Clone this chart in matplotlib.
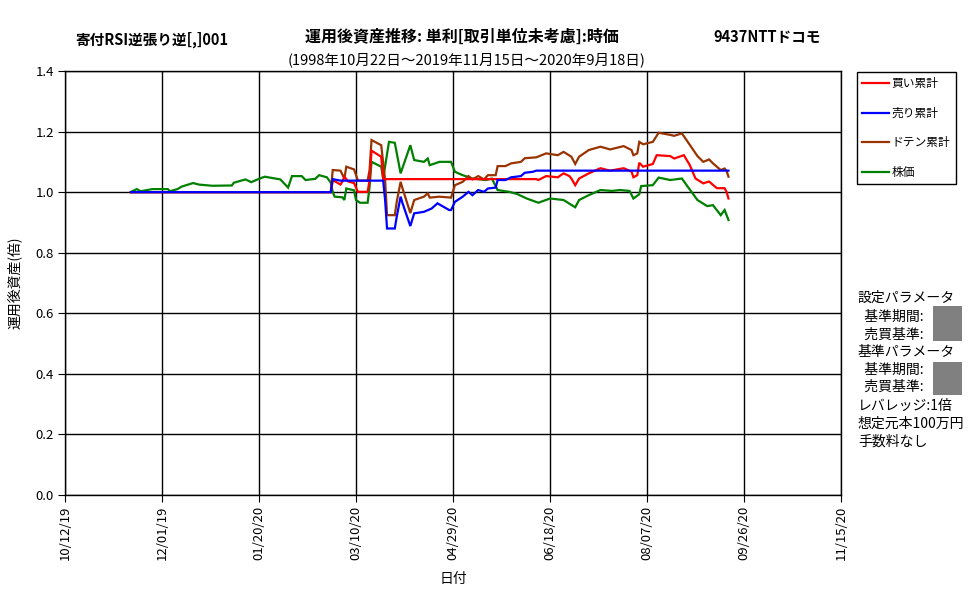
import matplotlib
matplotlib.use("Agg")
import matplotlib.pyplot as plt
import matplotlib.dates as mdates
from matplotlib.patches import Rectangle
import pandas as pd

plt.rcParams['font.family'] = ['Noto Sans CJK JP', 'DejaVu Sans']

# ---------------- data ----------------
green_dates = ["2019-11-15", "2019-11-18", "2019-11-20", "2019-11-26", "2019-12-04", "2019-12-05",
               "2019-12-09", "2019-12-11", "2019-12-17", "2019-12-20", "2019-12-27", "2020-01-06",
               "2020-01-07", "2020-01-13", "2020-01-16", "2020-01-20", "2020-01-23", "2020-01-31",
               "2020-02-04", "2020-02-06", "2020-02-11", "2020-02-13", "2020-02-18", "2020-02-20",
               "2020-02-24", "2020-02-26", "2020-02-27", "2020-02-28", "2020-03-03", "2020-03-04",
               "2020-03-05", "2020-03-09", "2020-03-10", "2020-03-12", "2020-03-16", "2020-03-17",
               "2020-03-18", "2020-03-23", "2020-03-24", "2020-03-27", "2020-03-30", "2020-04-02",
               "2020-04-07", "2020-04-09", "2020-04-14", "2020-04-16", "2020-04-17", "2020-04-22",
               "2020-04-28", "2020-04-30", "2020-05-04", "2020-05-09", "2020-05-16", "2020-05-19",
               "2020-05-22", "2020-05-28", "2020-06-01", "2020-06-06", "2020-06-12", "2020-06-18",
               "2020-06-25", "2020-07-01", "2020-07-03", "2020-07-08", "2020-07-14", "2020-07-20",
               "2020-07-24", "2020-07-29", "2020-07-31", "2020-08-03", "2020-08-04", "2020-08-10",
               "2020-08-13", "2020-08-19", "2020-08-25", "2020-08-28", "2020-09-02", "2020-09-07",
               "2020-09-10", "2020-09-14", "2020-09-16", "2020-09-18"]
green_vals = [1.001, 1.010, 1.003, 1.010, 1.010, 1.003,
              1.010, 1.018, 1.030, 1.025, 1.021, 1.022,
              1.031, 1.042, 1.033, 1.044, 1.051, 1.042,
              1.015, 1.053, 1.053, 1.040, 1.044, 1.056,
              1.049, 1.031, 1.001, 0.985, 0.983, 0.974,
              1.012, 1.006, 0.974, 0.965, 0.965, 1.018,
              1.100, 1.084, 1.045, 1.166, 1.163, 1.062,
              1.155, 1.106, 1.100, 1.111, 1.089, 1.100,
              1.100, 1.067, 1.056, 1.045, 1.040, 1.045,
              1.007, 1.001, 0.994, 0.979, 0.965, 0.979,
              0.974, 0.950, 0.974, 0.990, 1.007, 1.004,
              1.007, 1.004, 0.979, 0.993, 1.020, 1.023,
              1.048, 1.040, 1.045, 1.018, 0.974, 0.954,
              0.957, 0.924, 0.941, 0.908]

red_dates = ["2019-11-15", "2020-02-26", "2020-02-27", "2020-03-02", "2020-03-03", "2020-03-04",
             "2020-03-06", "2020-03-09", "2020-03-10", "2020-03-11", "2020-03-16", "2020-03-17",
             "2020-03-18", "2020-03-23", "2020-03-24", "2020-06-11", "2020-06-12", "2020-06-16",
             "2020-06-22", "2020-06-25", "2020-06-28", "2020-06-29", "2020-07-01", "2020-07-03",
             "2020-07-08", "2020-07-14", "2020-07-19", "2020-07-26", "2020-07-30", "2020-07-31",
             "2020-08-02", "2020-08-03", "2020-08-05", "2020-08-10", "2020-08-12", "2020-08-19",
             "2020-08-21", "2020-08-26", "2020-08-29", "2020-09-01", "2020-09-05", "2020-09-08",
             "2020-09-12", "2020-09-16", "2020-09-17", "2020-09-18"]
red_vals = [1.000, 1.000, 1.040, 1.025, 1.035, 1.051,
            1.035, 1.030, 1.015, 1.001, 1.001, 1.040,
            1.137, 1.117, 1.043, 1.043, 1.040, 1.053,
            1.049, 1.062, 1.053, 1.045, 1.023, 1.045,
            1.062, 1.079, 1.071, 1.079, 1.068, 1.049,
            1.056, 1.097, 1.084, 1.093, 1.122, 1.119,
            1.111, 1.122, 1.090, 1.045, 1.029, 1.035,
            1.013, 1.013, 1.001, 0.979]

blue_dates = ["2019-11-15", "2020-02-26", "2020-02-27", "2020-03-02", "2020-03-24", "2020-03-25",
              "2020-03-26", "2020-03-30", "2020-03-31", "2020-04-02", "2020-04-03", "2020-04-07",
              "2020-04-09", "2020-04-14", "2020-04-18", "2020-04-21", "2020-04-27", "2020-04-28",
              "2020-04-30", "2020-05-04", "2020-05-07", "2020-05-09", "2020-05-12", "2020-05-15",
              "2020-05-17", "2020-05-21", "2020-05-22", "2020-05-26", "2020-05-29", "2020-06-03",
              "2020-06-05", "2020-06-09", "2020-06-11", "2020-09-18"]
blue_vals = [1.000, 1.000, 1.043, 1.038, 1.038, 0.974,
             0.880, 0.880, 0.919, 0.985, 0.963, 0.888,
             0.930, 0.935, 0.946, 0.963, 0.941, 0.941,
             0.968, 0.985, 1.001, 0.990, 1.007, 1.001,
             1.012, 1.015, 1.040, 1.040, 1.049, 1.053,
             1.064, 1.067, 1.071, 1.071]

brown_dates = ["2019-11-15", "2020-02-26", "2020-02-27", "2020-03-02", "2020-03-04", "2020-03-05",
               "2020-03-09", "2020-03-11", "2020-03-16", "2020-03-17", "2020-03-18", "2020-03-23",
               "2020-03-25", "2020-03-26", "2020-03-30", "2020-03-31", "2020-04-02", "2020-04-03",
               "2020-04-07", "2020-04-09", "2020-04-14", "2020-04-16", "2020-04-17", "2020-04-22",
               "2020-04-28", "2020-04-30", "2020-05-04", "2020-05-07", "2020-05-09", "2020-05-12",
               "2020-05-15", "2020-05-17", "2020-05-21", "2020-05-22", "2020-05-26", "2020-05-29",
               "2020-06-03", "2020-06-05", "2020-06-11", "2020-06-16", "2020-06-22", "2020-06-25",
               "2020-06-29", "2020-07-01", "2020-07-03", "2020-07-08", "2020-07-14", "2020-07-19",
               "2020-07-26", "2020-07-30", "2020-07-31", "2020-08-02", "2020-08-03", "2020-08-05",
               "2020-08-10", "2020-08-13", "2020-08-19", "2020-08-21", "2020-08-25", "2020-08-28",
               "2020-09-02", "2020-09-05", "2020-09-08", "2020-09-10", "2020-09-14", "2020-09-16",
               "2020-09-17", "2020-09-18"]
brown_vals = [1.000, 1.000, 1.073, 1.071, 1.045, 1.084,
              1.075, 1.038, 1.038, 1.073, 1.172, 1.155,
              1.040, 0.924, 0.924, 0.968, 1.034, 1.012,
              0.931, 0.974, 0.985, 0.996, 0.982, 0.985,
              0.982, 1.023, 1.034, 1.053, 1.042, 1.053,
              1.042, 1.056, 1.056, 1.086, 1.086, 1.095,
              1.100, 1.112, 1.115, 1.128, 1.122, 1.133,
              1.117, 1.093, 1.117, 1.139, 1.150, 1.141,
              1.152, 1.139, 1.122, 1.128, 1.166, 1.158,
              1.166, 1.196, 1.189, 1.186, 1.194, 1.166,
              1.119, 1.100, 1.108, 1.095, 1.073, 1.078,
              1.070, 1.051]

series_labels = ["買い累計", "売り累計", "ドテン累計", "株価"]
series_colors = ["#FF0000", "#0000FF", "#993300", "#008000"]

x_start = "2019-10-12"
x_end = "2020-11-15"
y_ticks = [0.0, 0.2, 0.4, 0.6, 0.8, 1.0, 1.2, 1.4]

title_left = "寄付RSI逆張り逆[,]001"
title_center = "運用後資産推移: 単利[取引単位未考慮]:時価"
title_right = "9437NTTドコモ"
subtitle = "(1998年10月22日～2019年11月15日～2020年9月18日)"
side_lines = ["設定パラメータ", "  基準期間:", "  売買基準:", "基準パラメータ", "  基準期間:",
              "  売買基準:", "レバレッジ:1倍", "想定元本100万円", "手数料なし"]

# ---------------- figure ----------------
W, H = 977, 600
fig = plt.figure(figsize=(W / 100, H / 100), dpi=100)
ax = fig.add_axes([65 / W, 1 - 495 / H, (841 - 65) / W, (495 - 71) / H])

series = [(red_dates, red_vals), (blue_dates, blue_vals), (brown_dates, brown_vals), (green_dates, green_vals)]
order = [3, 2, 0, 1]
lines = {}
for i in order:
    d, v = series[i]
    ln, = ax.plot(pd.to_datetime(d), v, color=series_colors[i], lw=1.6, label=series_labels[i],
                  solid_joinstyle='miter')
    lines[i] = ln

x0 = pd.Timestamp(x_start)
x1 = pd.Timestamp(x_end)
ax.set_xlim(x0, x1)
ax.set_ylim(0, 1.4)
xt = pd.date_range(x0, x1, freq="50D")
ax.set_xticks(xt)
ax.xaxis.set_major_formatter(mdates.DateFormatter("%m/%d/%y"))
ax.set_yticks(y_ticks)
ax.set_yticklabels([f"{t:.1f}" for t in y_ticks])
ax.grid(True, color="black", lw=1.0)
ax.set_axisbelow(True)
for s in ax.spines.values():
    s.set_color("black")
    s.set_linewidth(1.0)
ax.tick_params(axis="x", rotation=90, labelsize=9.5, length=5, direction="out", pad=3)
ax.tick_params(axis="y", labelsize=9.5, length=5, direction="out", pad=3)
ax.set_xlabel("日付", fontsize=10, labelpad=8)
ax.set_ylabel("運用後資産(倍)", fontsize=10, labelpad=10)

# titles
fig.text(75 / W, 1 - 40 / H, title_left, fontsize=10.5, fontweight="bold", va="center", ha="left")
fig.text(462 / W, 1 - 37 / H, title_center, fontsize=11.5, fontweight="bold", va="center", ha="center")
fig.text(767 / W, 1 - 37 / H, title_right, fontsize=10.5, fontweight="bold", va="center", ha="center")
fig.text(467 / W, 1 - 60 / H, subtitle, fontsize=10.5, va="center", ha="center")

# legend
leg_handles = [lines[i] for i in range(4)]
leg = fig.legend(leg_handles, series_labels, loc="upper left",
                 bbox_to_anchor=(857 / W, 1 - 72 / H), fontsize=8.5, frameon=True,
                 fancybox=False, edgecolor="black", framealpha=1, handlelength=2.3,
                 labelspacing=1.4, borderpad=0.45, handletextpad=0.2, borderaxespad=0)
leg.get_frame().set_linewidth(1.0)

# side text
y_pos = [298, 317, 335, 352, 370, 387, 406, 424, 442]
for t, yp in zip(side_lines, y_pos):
    fig.text(858 / W, 1 - yp / H, t, fontsize=10, va="center", ha="left")
for (yt, yb) in [(306, 341), (362, 395)]:
    fig.patches.append(Rectangle((933 / W, 1 - yb / H), 29 / W, (yb - yt) / H,
                                 transform=fig.transFigure, facecolor="#808080", edgecolor="none"))

fig.savefig("out.png", dpi=100)
